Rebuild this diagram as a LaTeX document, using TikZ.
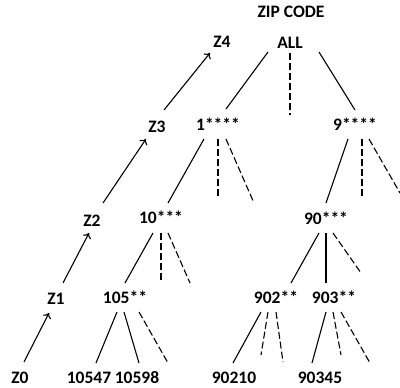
\documentclass[tikz,border=0pt]{standalone}
\usepackage{fontspec}
\setmainfont{Carlito}
\usetikzlibrary{arrows.meta,calc}
\begin{document}
\begin{tikzpicture}[x=1pt,y=-1pt,
  lbl/.style={font=\bfseries\fontsize{17.5}{20}\selectfont, inner sep=0pt},
  edge/.style={line width=1.1pt},
  dedge/.style={line width=1.1pt, dash pattern=on 7pt off 3pt},
  arr/.style={line width=1.1pt, -{To[length=5pt,width=9pt]}}]
\useasboundingbox (0,0) rectangle (400,388);
% labels
\node[lbl] (zip) at (291,12) {ZIP CODE};
\node[lbl] (all) at (290,43) {ALL};
\node[lbl] (z4) at (222,42) {Z4};
\node[lbl] (z3) at (157,127) {Z3};
\node[lbl] (z2) at (92,221) {Z2};
\node[lbl] (z1) at (56,299) {Z1};
\node[lbl] (z0) at (20,378) {Z0};
\node[lbl] (n1) at (218,124) {1****};
\node[lbl] (n9) at (355,124) {9****};
\node[lbl] (n10) at (161,217) {10***};
\node[lbl] (n90) at (326,218) {90***};
\node[lbl] (n105) at (125,297) {105**};
\node[lbl] (n902) at (276,297) {902**};
\node[lbl] (n903) at (334,297) {903**};
\node[lbl] (l10547) at (89,378) {10547};
\node[lbl] (l10598) at (137,378) {10598};
\node[lbl] (l90210) at (234,378) {90210};
\node[lbl] (l90345) at (320,378) {90345};
% free ends of dashed branches
\coordinate (eAll) at (290,115);
\coordinate (e1a) at (218,197);
\coordinate (e1b) at (254,203);
\coordinate (e9a) at (362,197);
\coordinate (e9b) at (400,193);
\coordinate (e10a) at (161,283);
\coordinate (e10b) at (190,283);
\coordinate (e90) at (361,273);
\coordinate (e105) at (168,363);
\coordinate (e902a) at (261,355);
\coordinate (e902b) at (283,362);
\coordinate (e903a) at (341,355);
\coordinate (e903b) at (370,363);
% level arrows
\draw[arr] ($(z0)+(4,-16)$) -- ($(z1)+(-7,14)$);
\draw[arr] ($(z1)+(7,-16)$) -- ($(z2)+(-3,12)$);
\draw[arr] ($(z2)+(11,-18)$) -- ($(z3)+(-11,12)$);
\draw[arr] ($(z3)+(7,-17)$) -- ($(z4)+(-12,11)$);
% tree
\draw[edge] ($(all)+(-22,9)$) -- ($(n1)+(8,-15)$);
\draw[dedge] ($(all)+(0,10)$) -- (eAll);
\draw[edge] ($(all)+(29,9)$) -- ($(n9)+(0,-14)$);
\draw[edge] ($(n1)+(-14,15)$) -- ($(n10)+(7,-14)$);
\draw[dedge] ($(n1)+(0,15)$) -- (e1a);
\draw[dedge] ($(n1)+(8,15)$) -- (e1b);
\draw[edge] ($(n9)+(-7,15)$) -- ($(n90)+(0,-15)$);
\draw[dedge] ($(n9)+(7,15)$) -- (e9a);
\draw[dedge] ($(n9)+(14,15)$) -- (e9b);
\draw[edge] ($(n10)+(-8,16)$) -- ($(n105)+(0,-14)$);
\draw[dedge] ($(n10)+(0,16)$) -- (e10a);
\draw[dedge] ($(n10)+(7,16)$) -- (e10b);
\draw[edge] ($(n90)+(-7,15)$) -- ($(n902)+(15,-14)$);
\draw[edge] ($(n90)+(0,15)$) -- ($(n903)+(-8,-14)$);
\draw[dedge] ($(n90)+(7,15)$) -- (e90);
\draw[edge] ($(n105)+(-8,15)$) -- ($(l10547)+(7,-15)$);
\draw[edge] ($(n105)+(-1,15)$) -- ($(l10598)+(2,-15)$);
\draw[dedge] ($(n105)+(14,15)$) -- (e105);
\draw[edge] ($(n902)+(-15,15)$) -- ($(l90210)+(-1,-15)$);
\draw[dedge] ($(n902)+(-8,15)$) -- (e902a);
\draw[dedge] ($(n902)+(0,15)$) -- (e902b);
\draw[edge] ($(n903)+(-8,15)$) -- ($(l90345)+(-8,-15)$);
\draw[dedge] ($(n903)+(-1,15)$) -- (e903a);
\draw[dedge] ($(n903)+(7,15)$) -- (e903b);
\end{tikzpicture}
\end{document}
